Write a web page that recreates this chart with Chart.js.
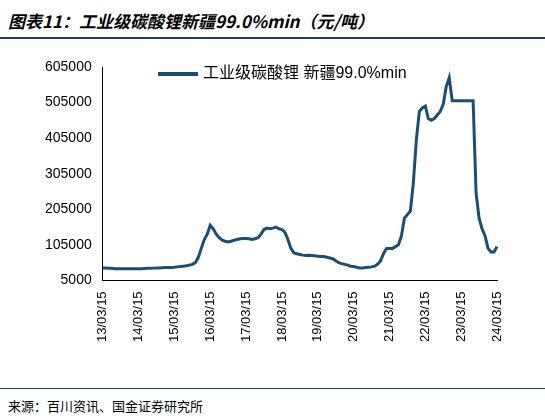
<!DOCTYPE html>
<html><head><meta charset="utf-8">
<script src="https://cdn.jsdelivr.net/npm/chart.js"></script>
<style>
body{margin:0;width:545px;height:418px;background:#fff;font-family:"Liberation Sans",Arial,sans-serif;position:relative;overflow:hidden}
#title{position:absolute;left:8px;top:8px;font-size:17px;font-weight:bold;font-style:italic;color:#000;font-family:"Noto Sans CJK SC","Liberation Sans",sans-serif}
#line1{position:absolute;left:0;top:37px;width:545px;height:2px;background:#1f3c6e}
#line2{position:absolute;left:0;top:388px;width:545px;height:1px;background:#1f3c6e}
#src{position:absolute;left:8px;top:396px;font-size:13px;color:#000;font-family:"Noto Sans CJK SC",sans-serif}
#wrap{position:absolute;left:0;top:55px;width:545px;height:290px}
</style></head><body>
<div id="title">图表11：工业级碳酸锂新疆99.0%min（元/吨）</div>
<div id="line1"></div>
<div id="wrap"><canvas id="c"></canvas></div>
<div id="line2"></div>
<div id="src">来源：百川资讯、国金证券研究所</div>
<script>
const seriesName = "工业级碳酸锂 新疆99.0%min";
const yTicks = [5000,105000,205000,305000,405000,505000,605000];
const values = [
40000,40000,39000,39000,38000,38000,38000,38000,38000,38000,38000,38000,
38000,38000,38500,39000,39000,39500,40000,40000,40500,41000,41000,41500,
42000,43000,44000,45000,46000,48000,50000,55000,70000,95000,120000,135000,
160000,150000,135000,125000,118000,115000,113000,115000,118000,120000,122000,123000,
123000,122000,120000,122000,125000,135000,148000,152000,150000,152000,155000,150000,
148000,140000,120000,95000,82000,80000,78000,76000,75000,76000,75000,74000,
73000,72000,72000,70000,68000,66000,60000,55000,52000,50000,48000,45000,
44000,42000,40000,40000,41000,42000,43000,45000,50000,60000,80000,95000,
95000,95000,100000,105000,130000,180000,190000,200000,280000,400000,480000,490000,
495000,460000,455000,460000,470000,480000,500000,550000,575000,510000,510000,510000,
510000,510000,510000,510000,510000,250000,180000,150000,130000,95000,85000,85000,
100000];
const labels = values.map((v,i)=>{const m=(2+i)%12+1, y=13+Math.floor((i+2)/12);return String(y).padStart(2,'0')+'/'+String(m).padStart(2,'0')+'/15';});
const legendPlugin={id:'lg',afterDraw(ch){const c=ch.ctx;c.save();c.strokeStyle='#1a4f74';c.lineWidth=4;
 c.beginPath();c.moveTo(158,19);c.lineTo(198,19);c.stroke();c.fillStyle='#000';c.font='16px "Liberation Sans","Noto Sans CJK SC"';
 c.textBaseline='middle';c.fillText(seriesName,203,19);c.restore();}};
new Chart(document.getElementById('c'),{
type:'line',
data:{labels:labels,datasets:[{label:seriesName,data:values,borderColor:'#1a4f74',borderWidth:3,pointRadius:0,tension:0,fill:false}]},
plugins:[legendPlugin],
options:{responsive:true,maintainAspectRatio:false,animation:false,
layout:{padding:{left:42,right:48,top:12,bottom:0}},
plugins:{legend:{display:false},tooltip:{enabled:false}},
scales:{
x:{grid:{display:false},border:{color:'#000'},ticks:{autoSkip:false,maxRotation:90,minRotation:90,color:'#000',font:{size:13,family:'Liberation Sans'},
  callback:function(v,i){return labels[i].slice(3,5)==='03'?labels[i]:null;}}},
y:{min:5000,max:605000,afterBuildTicks:a=>{a.ticks=yTicks.map(v=>({value:v}));},grid:{display:false},border:{color:'#000'},
  ticks:{color:'#000',font:{size:14,family:'Liberation Sans'},callback:v=>String(v)}}
}}});
</script>
</body></html>
